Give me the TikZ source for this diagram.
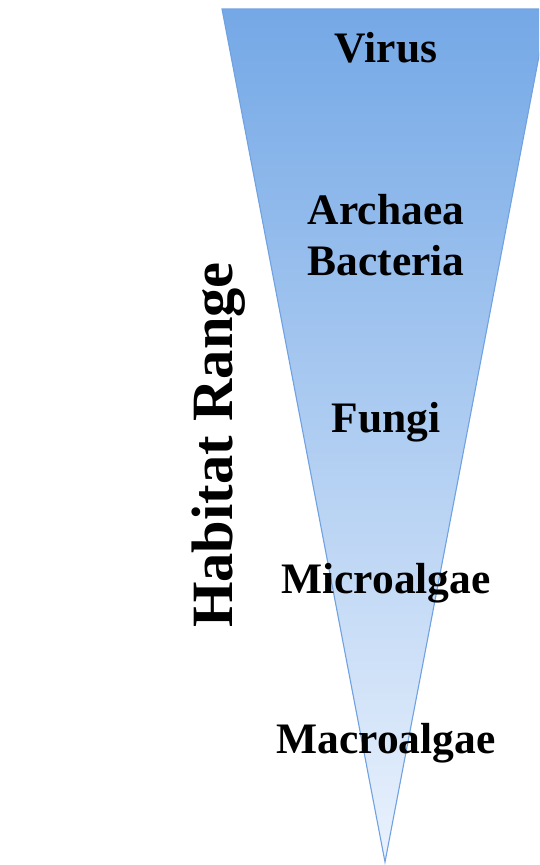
\documentclass[tikz,border=0pt]{standalone}
\usepackage{fontspec}
\setmainfont{Liberation Serif}
\usetikzlibrary{positioning}
\definecolor{fuseltop}{RGB}{116,168,230}
\definecolor{fuselbot}{RGB}{234,242,253}
\definecolor{fuseledge}{RGB}{112,162,226}
\tikzset{
  taxon/.style={anchor=base, align=center, inner sep=0pt,
                font=\bfseries\fontsize{43.5}{51}\selectfont},
  axislbl/.style={rotate=90, inner sep=0pt,
                  font=\bfseries\fontsize{58.5}{60}\selectfont},
}

\begin{document}
\begin{tikzpicture}[x=1pt, y=-1pt]
    \useasboundingbox (0,0) rectangle (539,865);
    \clip (0,0) rectangle (539,865);
    % funnel
    \coordinate (tl) at (222,9);
    \coordinate (tr) at (548,9);
    \coordinate (tip) at (385,862);
    \shade[top color=fuseltop, bottom color=fuselbot] (tl) -- (tr) -- (tip) -- cycle;
    \draw[fuseledge, line width=1.1pt, line join=miter] (tl) -- (tr) -- (tip) -- cycle;
    % labels
    \node[taxon] (virus) at (386,62) {Virus};
    \node[taxon] (archaea) at (386,275) {Archaea\\Bacteria};
    \node[taxon] (fungi) at (386,432) {Fungi};
    \node[taxon] (micro) at (386,593) {Microalgae};
    \node[taxon] (macro) at (386,753) {Macroalgae};
    \node[axislbl] (habitat) at (219,445) {Habitat Range};
\end{tikzpicture}
\end{document}
